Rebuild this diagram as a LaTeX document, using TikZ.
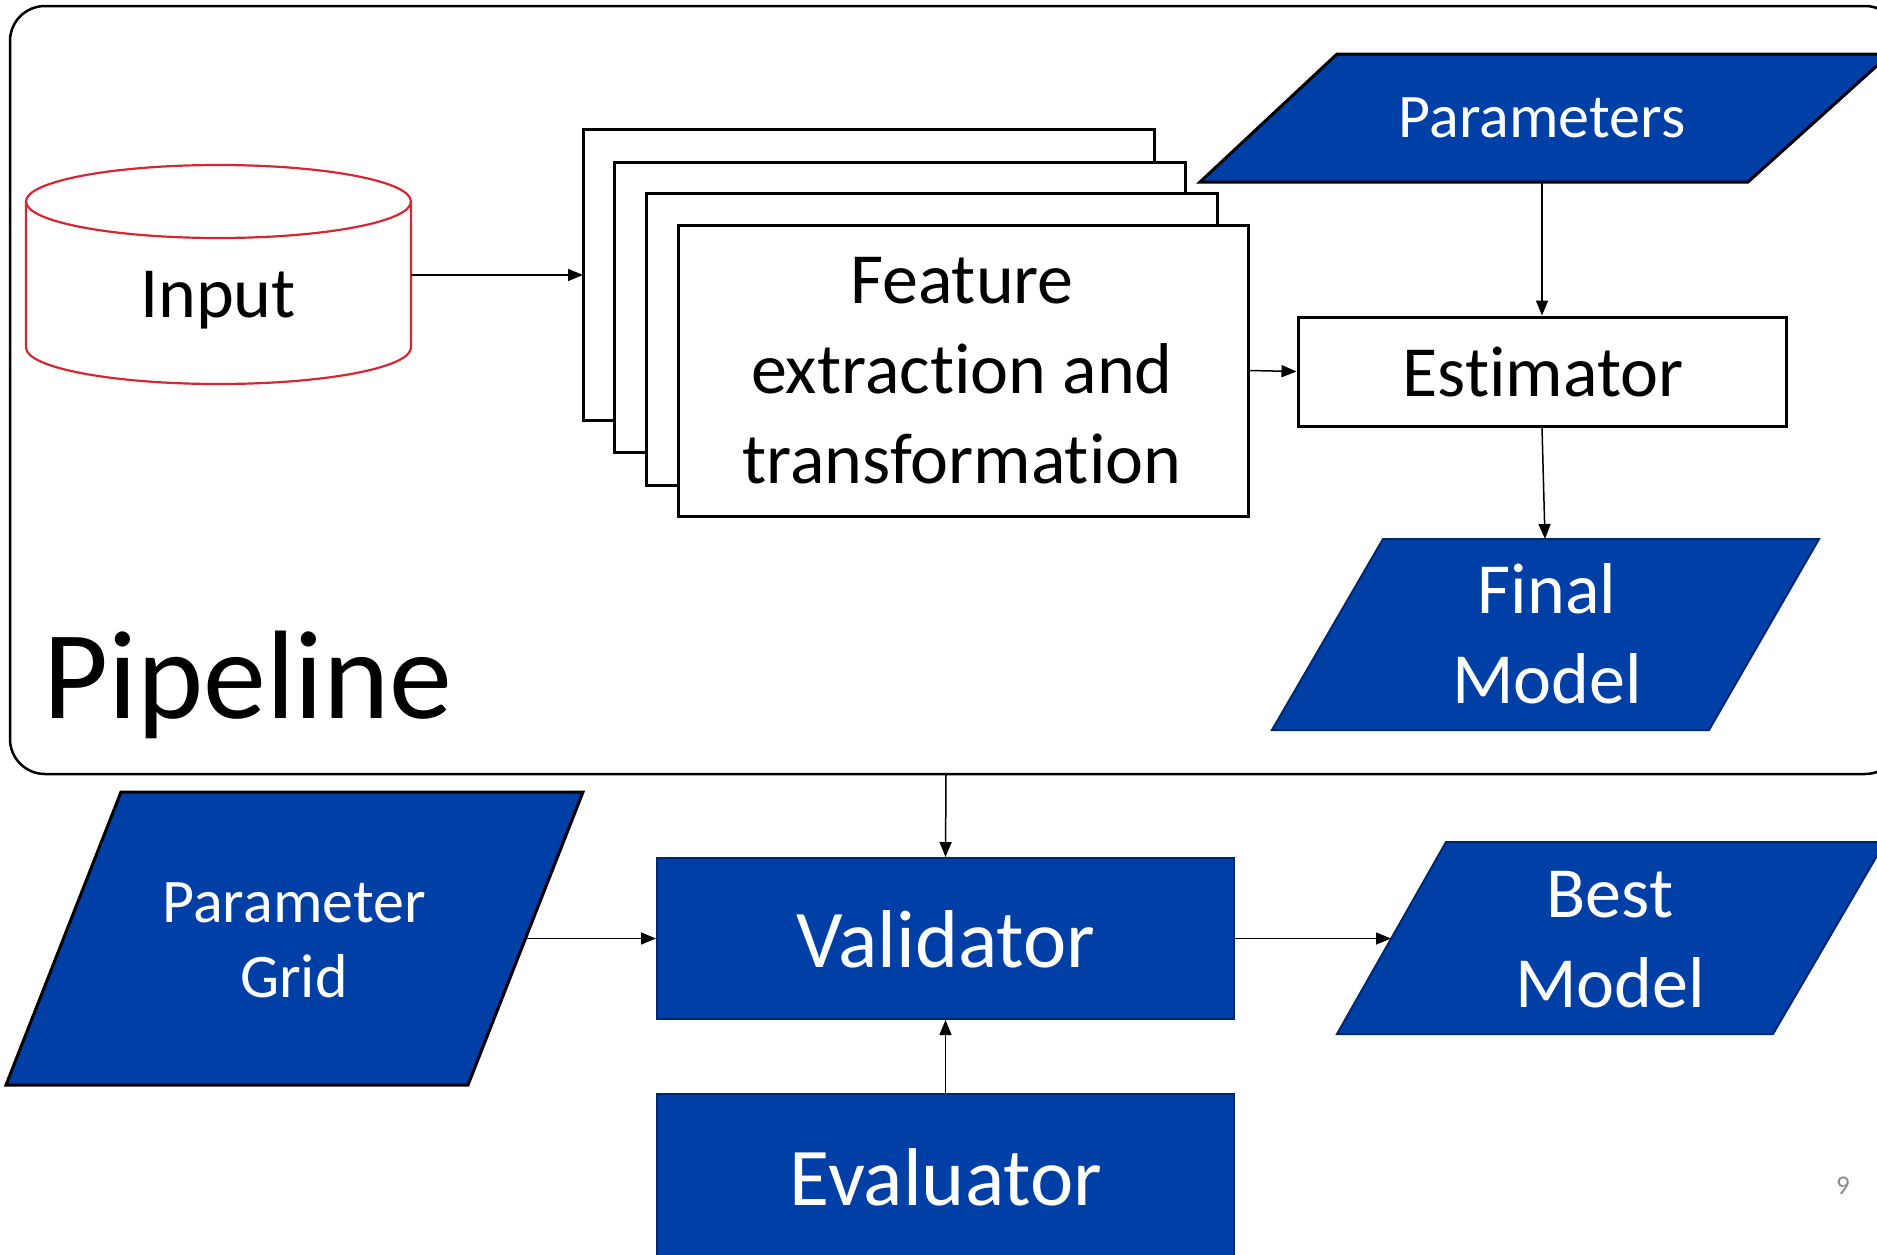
\documentclass[tikz,border=0pt]{standalone}
\usepackage{fontspec}
\setmainfont{Carlito}
\usetikzlibrary{arrows.meta}
\definecolor{pblue}{RGB}{0,63,166}
\definecolor{pnavy}{RGB}{0,38,110}
\definecolor{cylred}{RGB}{214,38,50}
\definecolor{pgray}{RGB}{140,140,140}
\newcommand\tbrk{\kern0pt }
\tikzset{
  wbox/.style={draw=black, line width=3bp, fill=white},
  bshape/.style={fill=pblue, draw=black, line width=3bp, line join=miter},
  bshapeN/.style={fill=pblue, draw=pnavy, line width=2bp},
  arr/.style={draw=black, line width=1.5bp, -{Triangle[length=15bp,width=12bp]}},
  wtxt/.style={text=white, inner sep=0pt, align=center},
  ktxt/.style={text=black, inner sep=0pt, align=center},
  fbig/.style={font=\fontsize{72bp}{90bp}\selectfont},
  fmid/.style={font=\fontsize{62bp}{75bp}\selectfont},
  fval/.style={font=\fontsize{82bp}{98bp}\selectfont},
}
\begin{document}
\begin{tikzpicture}[x=1bp,y=-1bp]
\useasboundingbox (0,0) rectangle (1877,1254);
\clip (0,0) rectangle (1877,1254);
\fill[white] (0,0) rectangle (1877,1254);

% Pipeline container
\draw[line width=2.5bp, rounded corners=35bp] (10,6) rectangle (1900,774);
\node[anchor=base west, inner sep=0pt, font=\fontsize{126bp}{150bp}\selectfont] (pipelbl) at (43,718) {Pipeline};
\coordinate (pipeS) at (946,774);

% Input cylinder
\draw[cylred, line width=2.2bp] (26,201.5) -- (26,347.5)
   arc[start angle=180, end angle=360, x radius=192.5bp, y radius=36.5bp] -- (411,201.5);
\draw[cylred, line width=2.2bp] (218.5,201.5) ellipse [x radius=192.5bp, y radius=36.5bp];
\node[ktxt, fbig] (input) at (218,300) {Input};
\coordinate (inR) at (411,275);

% stacked rectangles
\draw[wbox] (583,129) rectangle (1154,420);
\draw[wbox] (614,162) rectangle (1185,452);
\draw[wbox] (646,193) rectangle (1217,485);
\coordinate (stackL) at (583,275);
\node[wbox, minimum width=570bp, minimum height=291bp, inner sep=0pt] (fe) at (963,370.5) {};
\node[ktxt, fbig] (fetxt) at (962,371) {Feature\\extract\tbrk ion and\\transformat\tbrk ion};

% Parameters
\filldraw[bshape] (1337,54) -- (1890,54) -- (1748,182) -- (1200,182) -- cycle;
\node[wtxt, fmid] (params) at (1542,118) {Parameters};
\coordinate (paramsS) at (1542,182);

% Estimator
\node[wbox, minimum width=488bp, minimum height=109bp, inner sep=0pt] (est) at (1542,371.5) {};
\node[ktxt, fbig] (esttxt) at (1543,372) {Est\tbrk imator};

% Final Model
\filldraw[bshapeN] (1383,539) -- (1819,539) -- (1709,730) -- (1272,730) -- cycle;
\node[wtxt, fbig] (final) at (1547,634) {Final\\Model};
\coordinate (finalN) at (1545,539);

% Parameter Grid
\filldraw[bshape] (121,792) -- (583,792) -- (468,1085) -- (6,1085) -- cycle;
\node[wtxt, fmid] (pgrid) at (294,940) {Parameter\\Grid};
\coordinate (pgridE) at (526,938.5);

% Validator
\node[bshapeN, minimum width=577bp, minimum height=161bp, inner sep=0pt] (val) at (945.5,938.5) {};
\node[wtxt, fval] (valtxt) at (946,939) {Validator};

% Evaluator
\filldraw[bshapeN] (657,1280) -- (657,1094) -- (1234,1094) -- (1234,1280);
\coordinate (evalN) at (945.5,1094);
\node[wtxt, fval] (eval) at (946,1177) {Evaluator};

% Best Model
\filldraw[bshapeN] (1446,842) -- (1885,842) -- (1773,1034) -- (1337,1034) -- cycle;
\node[wtxt, fbig] (best) at (1610,940) {Best\\Model};
\coordinate (bestW) at (1391,938.5);

% page number
\node[text=pgray, inner sep=0pt, font=\fontsize{27bp}{30bp}\selectfont] (pnum) at (1843,1186) {9};

% connectors
\draw[arr] (inR) -- (stackL);
\draw[arr] (fe.east) -- (est.west);
\draw[arr] (paramsS) -- (est.north);
\draw[arr] (est.south) -- (finalN);
\draw[arr] (pipeS) -- (val.north);
\draw[arr] (pgridE) -- (val.west);
\draw[arr] (val.east) -- (bestW);
\draw[arr] (evalN) -- (val.south);
\end{tikzpicture}
\end{document}
